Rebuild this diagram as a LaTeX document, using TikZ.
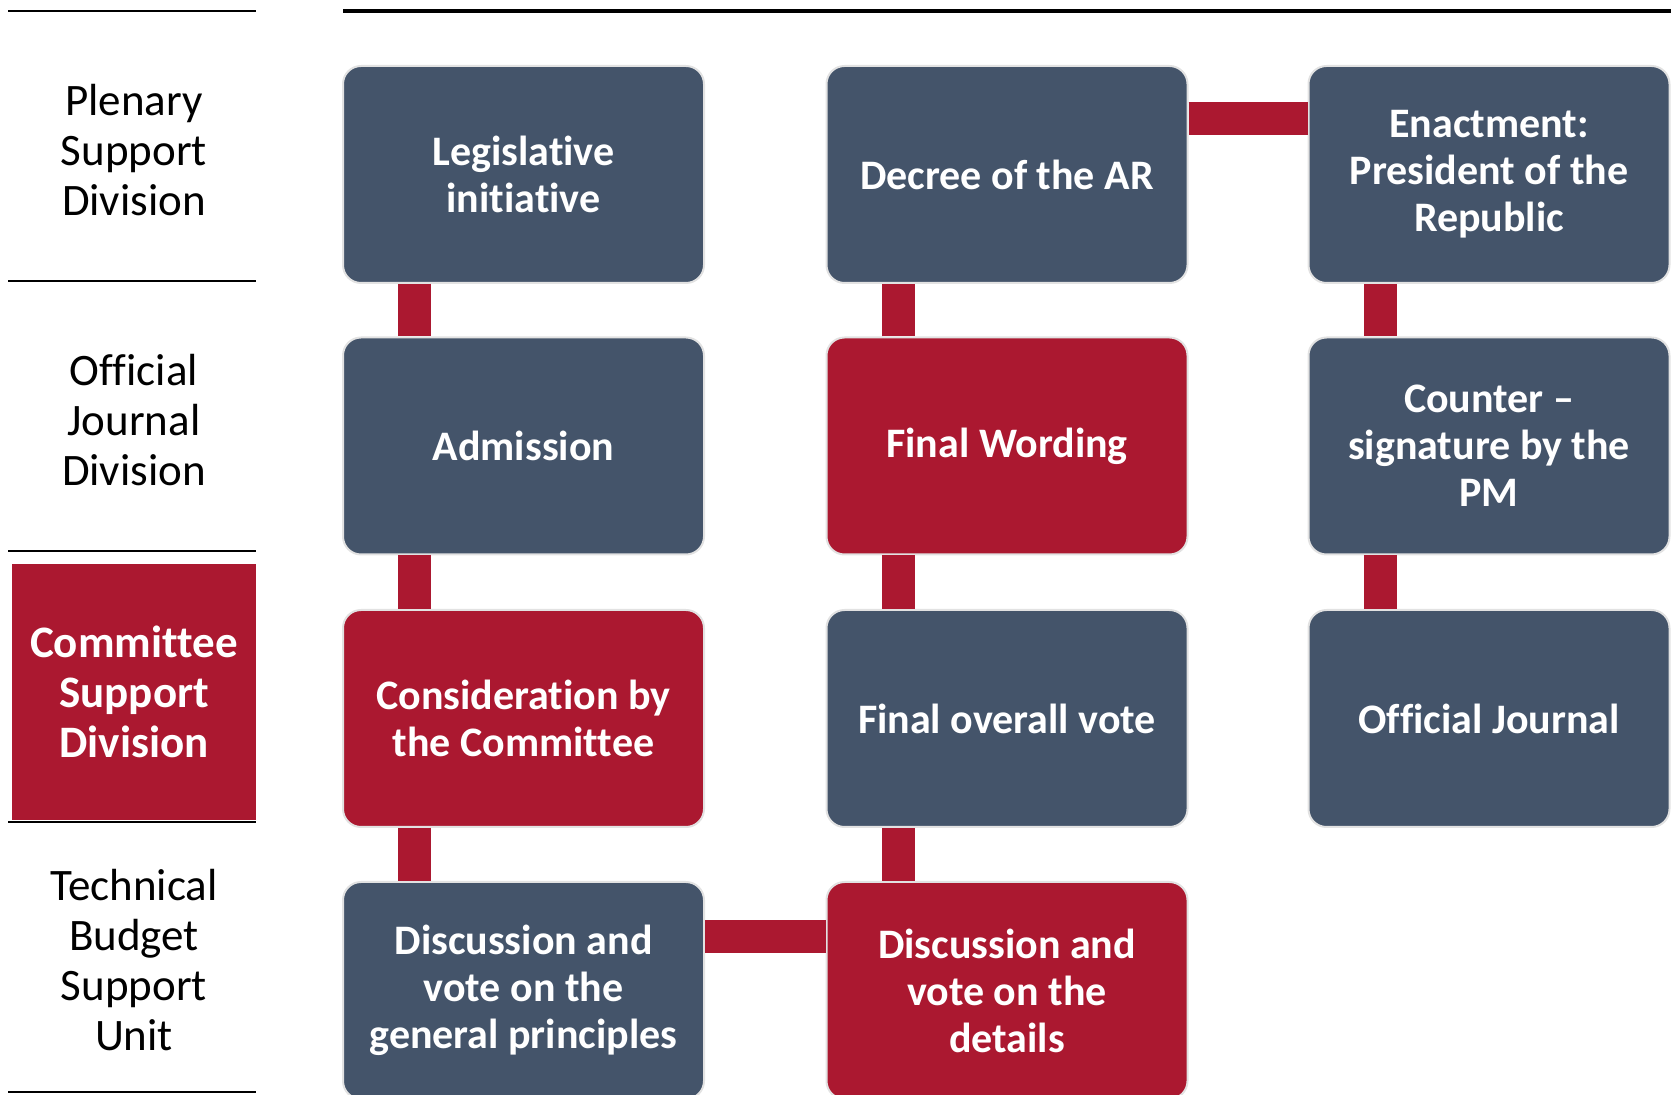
\documentclass[tikz,border=0pt]{standalone}
\usepackage{fontspec}
\setmainfont{Carlito}[Ligatures={NoCommon,NoContextual}]
\definecolor{slate}{HTML}{44546A}
\definecolor{crim}{HTML}{AB1830}
\definecolor{edge}{HTML}{E2E2E2}
\begin{document}
\begin{tikzpicture}[x=0.5pt,y=-0.5pt,
  box/.style={rectangle, rounded corners=9pt, minimum width=180.5pt, minimum height=108.5pt,
    draw=edge, line width=1pt, text=white, font=\bfseries\fontsize{21}{23.5}\selectfont,
    align=center, inner sep=0pt},
  navybox/.style={box, fill=slate},
  redbox/.style={box, fill=crim},
  conn/.style={draw=crim, line width=16.5pt},
  rule/.style={draw=black, line width=1.25pt},
  lab/.style={align=center, font=\fontsize{22.5}{25}\selectfont, inner sep=0pt}]
\useasboundingbox (0,0) rectangle (1671,1095);
\clip (0,0) rectangle (1671,1095);

% left rules
\draw[rule] (8,11) -- (256,11);
\draw[rule] (8,281) -- (256,281);
\draw[rule] (8,551) -- (256,551);
\draw[rule] (8,822) -- (256,822);
\draw[rule] (8,1092) -- (256,1092);
\draw[draw=black, line width=2pt] (343,11) -- (1671,11);

% left labels
\node[lab] (l1) at (134,150) {Plenary\\Support\\Division};
\node[lab] (l2) at (134,420) {Official\\Journal\\Division};
\node[fill=crim, minimum width=122pt, minimum height=128pt, inner sep=0pt] (l3box) at (134,692) {};
\node[lab, text=white, font=\bfseries\fontsize{22.5}{25}\selectfont] (l3) at (134,692) {Committee\\Support\\Division};
\node[lab] (l4) at (134,960) {Technical\\Budget\\Support\\Unit};

% process boxes
\node[navybox] (li) at (523.5,174.5) {Legislative\\initiative};
\node[navybox] (de) at (1007,174.5) {Decree of the AR};
\node[navybox] (en) at (1489,174.5) {Enactment:\\President of the\\Republic};
\node[navybox] (ad) at (523.5,446) {Admission};
\node[redbox]  (fw) at (1007,446) {Final Wording};
\node[navybox] (cs) at (1489,446) {Counter –\\signature by the\\PM};
\node[redbox]  (cc) at (523.5,718.5) {Consideration by\\the Committee};
\node[navybox] (fv) at (1007,718.5) {Final overall vote};
\node[navybox] (oj) at (1489,718.5) {Official Journal};
\node[navybox] (dg) at (523.5,990.5) {Discussion and\\vote on the\\general principles};
\node[redbox]  (dd) at (1007,990.5) {Discussion and\\vote on the\\details};

% connectors
\draw[conn] ([xshift=36.25pt]li.south west) -- ([xshift=36.25pt]ad.north west);
\draw[conn] ([xshift=36.25pt]ad.south west) -- ([xshift=36.25pt]cc.north west);
\draw[conn] ([xshift=36.25pt]cc.south west) -- ([xshift=36.25pt]dg.north west);
\draw[conn] ([yshift=-27.5pt]dg.north east) -- ([yshift=-27.5pt]dd.north west);
\draw[conn] ([xshift=36.25pt]dd.north west) -- ([xshift=36.25pt]fv.south west);
\draw[conn] ([xshift=36.25pt]fv.north west) -- ([xshift=36.25pt]fw.south west);
\draw[conn] ([xshift=36.25pt]fw.north west) -- ([xshift=36.25pt]de.south west);
\draw[conn] ([yshift=-27pt]de.north east) -- ([yshift=-27pt]en.north west);
\draw[conn] ([xshift=36.25pt]en.south west) -- ([xshift=36.25pt]cs.north west);
\draw[conn] ([xshift=36.25pt]cs.south west) -- ([xshift=36.25pt]oj.north west);
\end{tikzpicture}
\end{document}
